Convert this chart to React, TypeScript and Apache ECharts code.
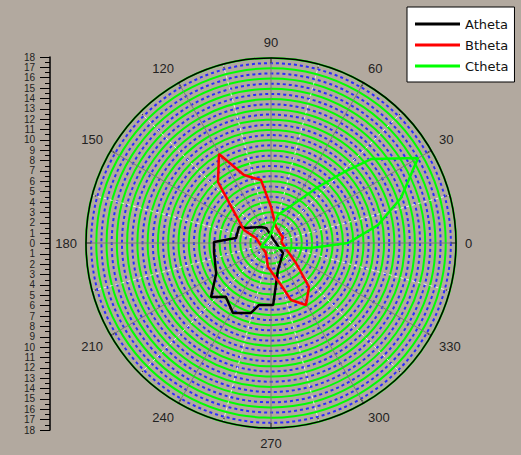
import React, { useEffect, useRef } from "react";
import * as echarts from "echarts";

// Polar data: angles in degrees (counter-clockwise from east), radii in axis units
const seriesNames = ["Atheta", "Btheta", "Ctheta"];
const seriesColors = ["#000000", "#ff0000", "#00ff00"];

const aAngles = [45, 108, 122, 149, 153, 172, 179, 189, 209, 222, 230, 241.5, 254, 259, 272, 284.5, 320];
const aRadii = [0.4, 1.54, 1.84, 2.84, 3.48, 3.44, 5.55, 5.61, 6.1, 7.85, 6.84, 7.75, 7.08, 6.14, 6.03, 2.71, 1.52];

const bAngles = [6, 26.6, 38.7, 72.6, 90, 99, 111.7, 120.3, 131, 139, 154.3, 161.6, 243, 262.9, 283.4, 289.3, 299.4, 310.8, 321.3];
const bRadii = [1.0, 1.3, 1.25, 1.63, 3.5, 6.2, 7.12, 10.03, 7.86, 4.9, 2.92, 1.54, 1.09, 2.35, 4.2, 5.88, 6.93, 5.65, 3.11];

const cAngles = [0, 9.5, 19.1, 30, 40, 44.2, 50, 76, 108, 202, 324, 352.9];
const cRadii = [7.49, 10.55, 13.38, 16.52, 12.7, 9.9, 7.11, 2.81, 0.6, 1.05, 0.84, 3.92];

const radiusMax = 18;
const angleLabelStep = 30;
const leftAxisMin = -18;
const leftAxisMax = 18;

function closedLoop(angles: number[], radii: number[]) {
  const pts = angles.map((a, i) => [radii[i], a]);
  pts.push([radii[0], angles[0]]);
  return pts;
}

const FONT = "Liberation Sans, Arial, sans-serif";

export default function App() {
  const ref = useRef<HTMLDivElement>(null);
  useEffect(() => {
    if (!ref.current) return;
    const chart = echarts.init(ref.current, null, { renderer: "svg" });
    const datasets = [
      closedLoop(aAngles, aRadii),
      closedLoop(bAngles, bRadii),
      closedLoop(cAngles, cRadii),
    ];
    chart.setOption({
      animation: false,
      backgroundColor: "#b2a99f",
      legend: {
        data: seriesNames,
        orient: "vertical",
        left: 407,
        top: 7,
        icon: "rect",
        itemWidth: 45,
        itemHeight: 3,
        itemGap: 7,
        padding: [10, 6, 9, 8],
        backgroundColor: "#ffffff",
        borderColor: "#000000",
        borderWidth: 1,
        borderRadius: 0,
        textStyle: { fontSize: 13, fontFamily: "DejaVu Sans", color: "#111", lineHeight: 14 },
      },
      polar: { center: [271, 243], radius: 185 },
      angleAxis: {
        type: "value",
        min: 0,
        max: 360,
        interval: angleLabelStep,
        startAngle: 0,
        clockwise: false,
        axisLine: { lineStyle: { color: "#000", width: 1.5 } },
        axisTick: { show: true, inside: true, length: 5, lineStyle: { color: "#000", width: 1.2 } },
        minorTick: { show: true, splitNumber: 2, length: 4, lineStyle: { color: "#000", width: 1 } },
        axisLabel: {
          margin: 9,
          fontSize: 13,
          color: "#222",
          fontFamily: FONT,
          formatter: (v: number) => (v === 360 ? "" : String(v)),
        },
        splitLine: { show: true, lineStyle: { color: "#7a7a7a", width: 1 } },
        minorSplitLine: {
          show: true,
          lineStyle: { color: "rgba(255,255,255,0.8)", width: 1, type: [3, 3] },
        },
      },
      radiusAxis: {
        type: "value",
        min: 0,
        max: radiusMax,
        interval: 1,
        axisLine: { show: false },
        axisTick: { show: false },
        axisLabel: { show: false },
        splitLine: { show: true, lineStyle: { color: "#00ff00", width: 2 } },
        minorTick: { show: false, splitNumber: 2 },
        minorSplitLine: {
          show: true,
          lineStyle: { color: "#2a2aff", width: 2, type: [3, 3] },
        },
      },
      grid: { left: 50, top: 57, width: 1, height: 373 },
      xAxis: { type: "value", show: false },
      yAxis: {
        type: "value",
        position: "left",
        min: leftAxisMin,
        max: leftAxisMax,
        interval: 1,
        axisLine: { show: true, lineStyle: { color: "#000", width: 1.5 } },
        axisTick: { show: true, length: 10, lineStyle: { color: "#000", width: 1 } },
        minorTick: { show: true, splitNumber: 2, length: 5, lineStyle: { color: "#000", width: 1 } },
        splitLine: { show: false },
        axisLabel: {
          margin: 15,
          fontSize: 10,
          color: "#222",
          fontFamily: FONT,
          showMinLabel: true,
          showMaxLabel: true,
          formatter: (v: number) => String(Math.abs(v)),
        },
      },
      series: seriesNames.map((name, i) => ({
        name,
        type: "line",
        coordinateSystem: "polar",
        data: datasets[i],
        symbol: "none",
        lineStyle: { color: seriesColors[i], width: 2.5 },
        itemStyle: { color: seriesColors[i] },
      })),
    });
    return () => chart.dispose();
  }, []);
  return (
    <div
      ref={ref}
      style={{ position: "fixed", left: 0, top: 0, width: 521, height: 455 }}
    />
  );
}
